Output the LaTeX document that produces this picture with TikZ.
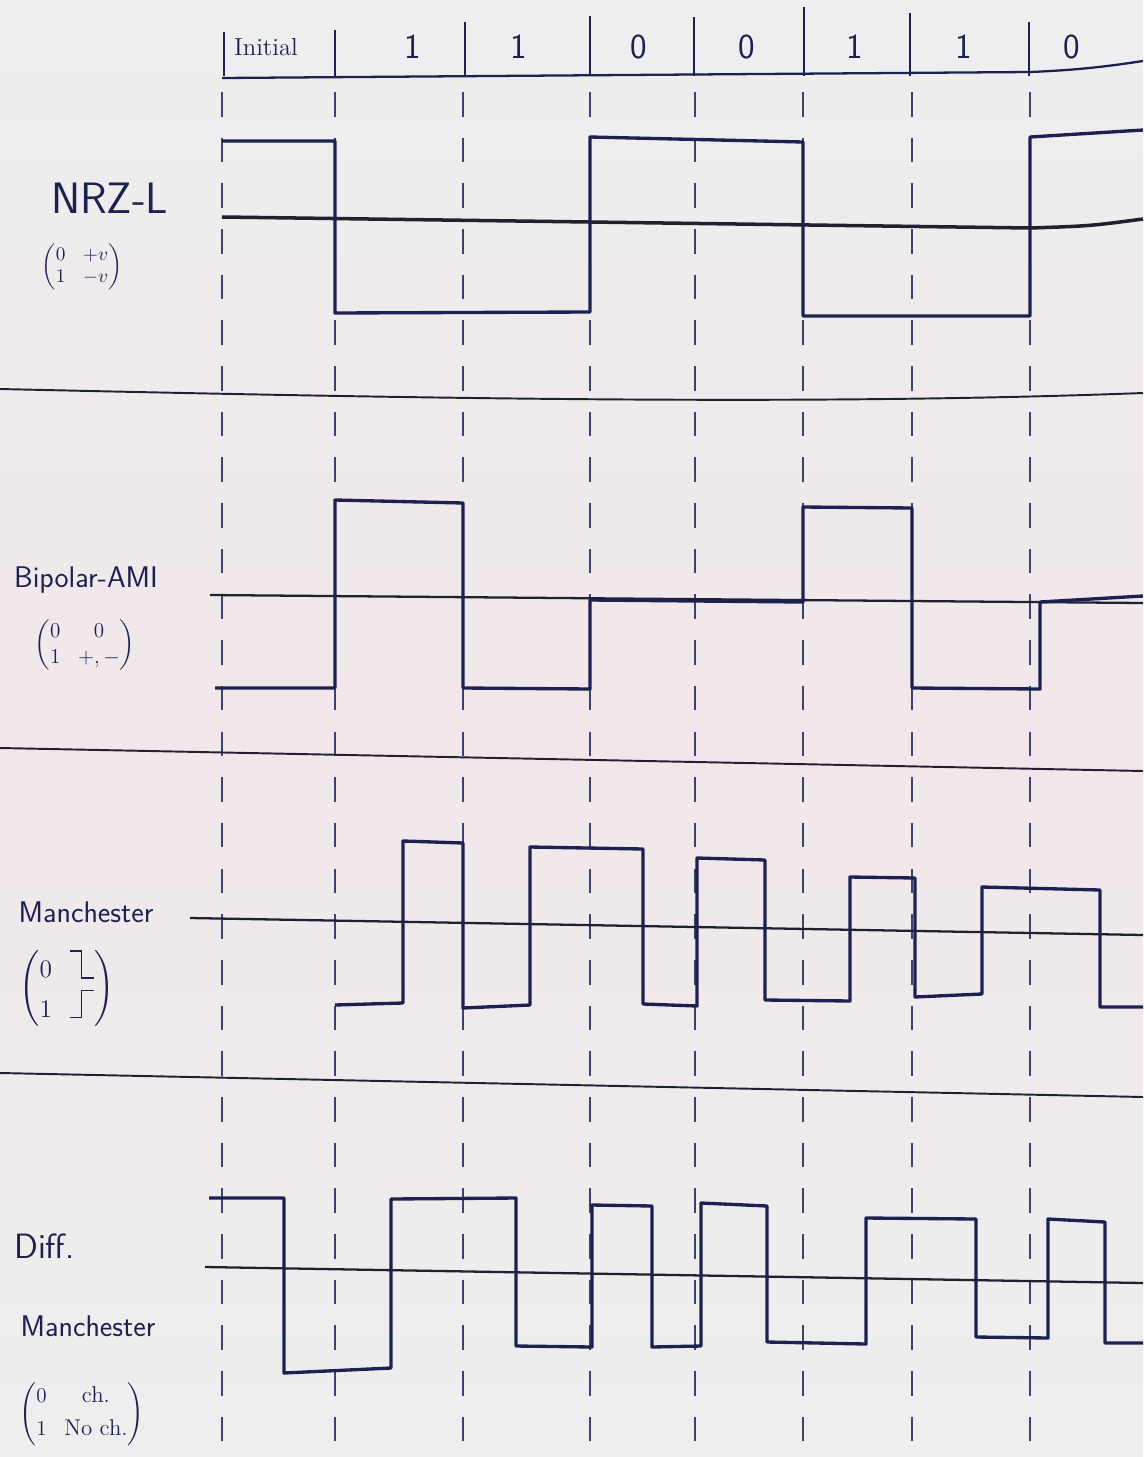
\documentclass[tikz,border=0pt]{standalone}
\usepackage{amsmath}
\usepackage{xcolor}
\usepackage{tikz}
\usetikzlibrary{calc}

\definecolor{paper}{HTML}{F1E7EA}
\definecolor{papertop}{HTML}{EEEEEF}
\definecolor{ink}{HTML}{1D2150}
\definecolor{pencil}{HTML}{202030}

% kleine Symbole fuer Manchester (0: hoch->tief, 1: tief->hoch)
\newcommand{\hilo}{\tikz[x=0.5em,y=0.5em,baseline=0pt,line width=0.9pt,ink]\draw (0,2.2)--(0.9,2.2)--(0.9,0)--(1.9,0);}
\newcommand{\lohi}{\tikz[x=0.5em,y=0.5em,baseline=0pt,line width=0.9pt,ink]\draw (0,0)--(0.9,0)--(0.9,2.2)--(1.9,2.2);}

\begin{document}
\begin{tikzpicture}[x=0.02cm, y=-0.02cm,
    wave/.style={ink, line width=1.9pt, line join=round},
    zeroline/.style={pencil, line width=1.3pt},
    slotline/.style={ink!85, line width=0.6pt, dash pattern=on 14pt off 12pt},
    sepline/.style={pencil, line width=1.1pt},
    tickline/.style={ink, line width=1pt},
    codename/.style={ink, font=\sffamily\fontsize{17}{19}\selectfont},
    keytext/.style={ink, font=\fontsize{12}{14}\selectfont},
    bitlabel/.style={ink, font=\sffamily\fontsize{20}{22}\selectfont}]

    % Papier
    \useasboundingbox (0,0) rectangle (1143,1457);
    \shade[top color=papertop, bottom color=papertop, middle color=paper] (0,0) rectangle (1143,1457);

    % Kopfzeile mit den Bits
    \draw[tickline, line width=1.3pt] (222,78) -- (1030,72) .. controls (1080,70) and (1110,66) .. (1143,61);
    \foreach \xb/\ya in {224/32, 335/30, 465/22, 590/16, 694/17, 804/7, 910/13, 1029/22}
        \draw[tickline] (\xb,\ya) -- (\xb,76);
    \node[ink, font=\fontsize{14}{16}\selectfont, anchor=west] (initial) at (228,47) {Initial};
    \foreach \xc/\b [count=\i] in {413/1, 519/1, 639/0, 747/0, 855/1, 964/1, 1072/0}
        \node[bitlabel] (bit\i) at (\xc,47) {\b};

    % Taktraster (gestrichelt)
    \foreach \xb in {222, 335, 463, 590, 695, 803, 912, 1030}
        \draw[slotline] (\xb,92) -- (\xb,1442);

    % Trennlinien
    \draw[sepline] (0,389) .. controls (400,398) and (800,406) .. (1143,393);
    \draw[sepline] (0,748) -- (1143,771);
    \draw[sepline] (0,1073) -- (1143,1097);

    % NRZ-L
    \node[codename, font=\sffamily\fontsize{25}{27}\selectfont, anchor=west] (nrzl) at (45,198) {NRZ-L};
    \node[keytext, font=\fontsize{11}{13}\selectfont] (nrzkey) at (82,267) {$\left(\begin{matrix}0 & +v\\ 1 & -v\end{matrix}\right)$};
    \draw[zeroline, line width=2pt] (222,217) -- (1030,228) .. controls (1090,226) .. (1143,219);
    \draw[wave] (222,141) -- (335,141) -- (335,313) -- (590,312) -- (590,137) -- (803,142)
        -- (803,316) -- (1030,316) -- (1030,137) -- (1143,130);

    % Bipolar-AMI
    \node[codename] (ami) at (86,580) {Bipolar-AMI};
    \node[keytext, font=\fontsize{13}{15}\selectfont] (amikey) at (85,645) {$\left(\begin{matrix}0 & 0\\ 1 & +,-\end{matrix}\right)$};
    \draw[zeroline] (210,595) -- (1143,603);
    \draw[wave] (215,688) -- (335,688) -- (335,500) -- (463,503) -- (463,688) -- (590,689)
        -- (590,600) -- (803,602) -- (803,507) -- (912,508) -- (912,688) -- (1040,689)
        -- (1040,602) -- (1143,596);

    % Manchester
    \node[codename] (manch) at (86,912) {Manchester};
    \node[keytext, font=\fontsize{14}{16}\selectfont] (manchkey) at (67,988) {$\left(\begin{matrix}0 & \hilo\\[2pt] 1 & \lohi\end{matrix}\right)$};
    \draw[zeroline] (190,918) -- (1143,935);
    \draw[wave] (335,1005) -- (403,1003) -- (403,841) -- (463,843) -- (463,1008) -- (530,1005)
        -- (530,847) -- (643,849) -- (643,1004) -- (697,1006) -- (697,858) -- (765,860)
        -- (765,1000) -- (850,1001) -- (850,877) -- (915,878) -- (915,997) -- (982,994)
        -- (982,887) -- (1100,890) -- (1100,1007) -- (1143,1007);

    % Differential Manchester
    \node[codename, font=\sffamily\fontsize{20}{22}\selectfont, anchor=west] (diff) at (8,1246) {Diff.};
    \node[codename] (dmanch) at (88,1326) {Manchester};
    \node[keytext, font=\fontsize{13}{15}\selectfont] (dmanchkey) at (82,1414) {$\left(\begin{matrix}0 & \text{ch.}\\[4pt] 1 & \text{No ch.}\end{matrix}\right)$};
    \draw[zeroline] (205,1267) -- (1143,1283);
    \draw[wave] (209,1198) -- (284,1198) -- (284,1373) -- (391,1368) -- (391,1199) -- (516,1198)
        -- (516,1346) -- (592,1347) -- (592,1205) -- (652,1206) -- (652,1347) -- (701,1346)
        -- (701,1203) -- (767,1206) -- (767,1342) -- (866,1344) -- (866,1218) -- (976,1219)
        -- (976,1337) -- (1048,1338) -- (1048,1219) -- (1105,1222) -- (1105,1343) -- (1143,1343);

\end{tikzpicture}
\end{document}
